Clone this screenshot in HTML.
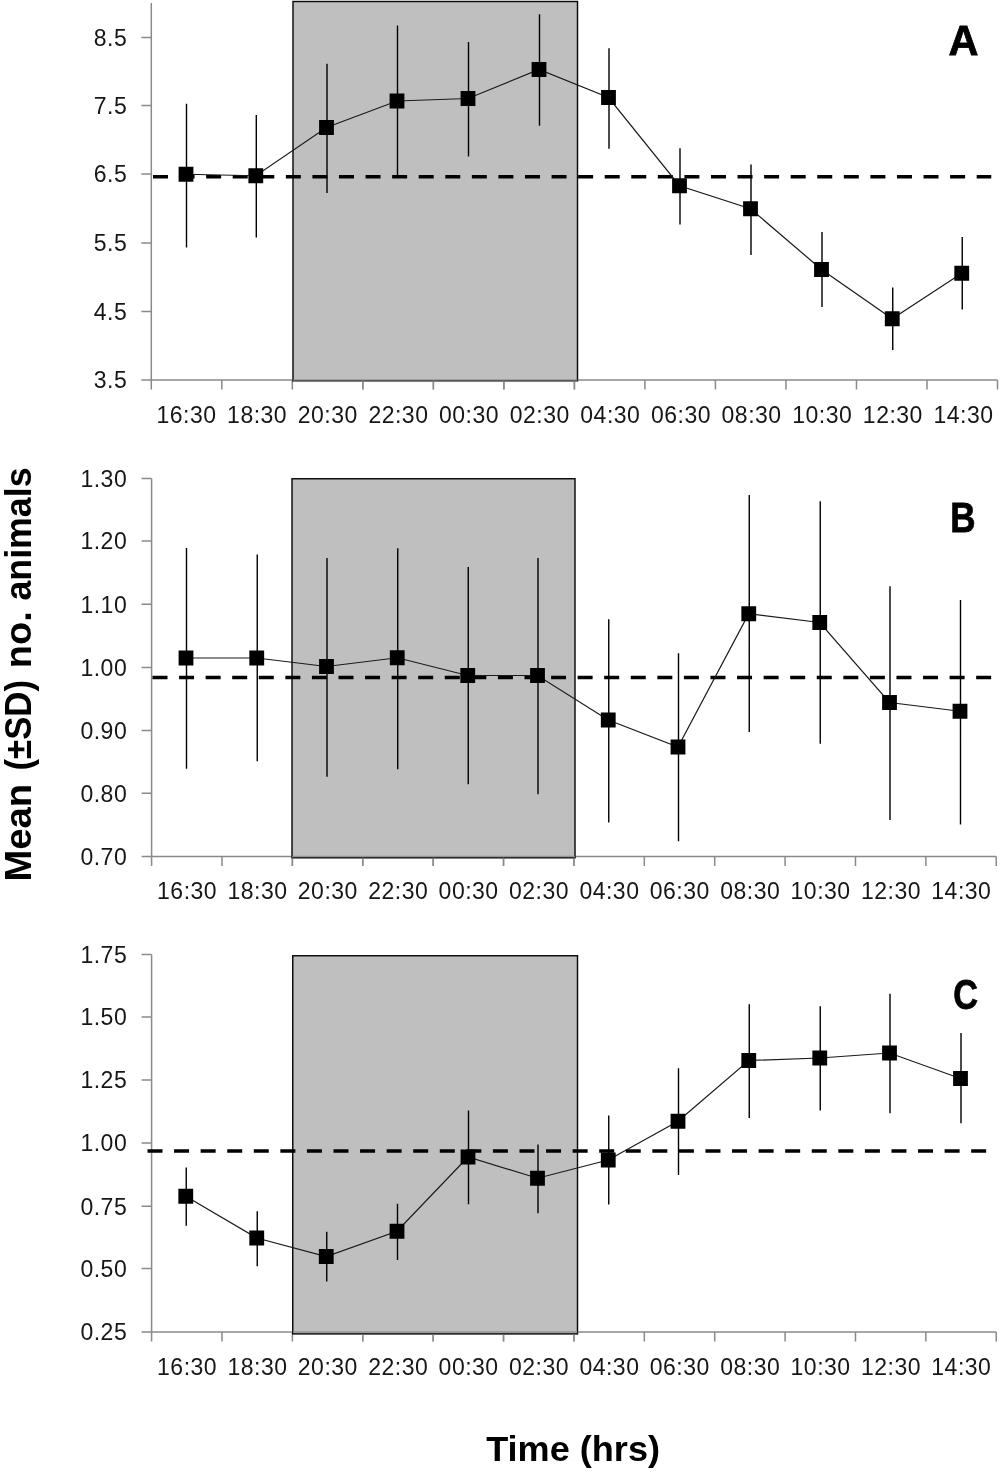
<!DOCTYPE html>
<html><head><meta charset="utf-8"><title>Figure</title>
<style>
html,body{margin:0;padding:0;background:#fff}
svg{display:block}
text{font-family:"Liberation Sans",sans-serif}
.t{font-size:23px;fill:#161616;letter-spacing:0.5px}
.b{font-weight:bold;fill:#000}
</style></head><body>
<svg width="1000" height="1472" viewBox="0 0 1000 1472">
<rect width="1000" height="1472" fill="#fff"/>
<g>
<path d="M151.3 3V380H997.5" fill="none" stroke="#8a8a8a" stroke-width="1.5"/>
<path d="M141.3 37.5H151.3M141.3 105.5H151.3M141.3 174H151.3M141.3 243H151.3M141.3 311.5H151.3M141.3 380H151.3M151.3 380V389.5M221.82 380V389.5M292.33 380V389.5M362.85 380V389.5M433.37 380V389.5M503.88 380V389.5M574.4 380V389.5M644.92 380V389.5M715.43 380V389.5M785.95 380V389.5M856.47 380V389.5M926.98 380V389.5M997.5 380V389.5" fill="none" stroke="#8a8a8a" stroke-width="1.5"/>
<rect x="293" y="1.5" width="284.5" height="379.3" fill="#bfbfbf" stroke="#0a0a0a" stroke-width="1.45"/>
<path d="M362.85 380.8V389.5M433.37 380.8V389.5M503.88 380.8V389.5M574.4 380.8V389.5M293 380H577.5" fill="none" stroke="#8a8a8a" stroke-width="1.5" opacity="0.8"/>
<text class="t" x="127.2" y="45.8" text-anchor="end">8.5</text>
<text class="t" x="127.2" y="113.8" text-anchor="end">7.5</text>
<text class="t" x="127.2" y="182.3" text-anchor="end">6.5</text>
<text class="t" x="127.2" y="251.3" text-anchor="end">5.5</text>
<text class="t" x="127.2" y="319.8" text-anchor="end">4.5</text>
<text class="t" x="127.2" y="388.3" text-anchor="end">3.5</text>
<text class="t" x="186.5" y="422.6" text-anchor="middle">16:30</text>
<text class="t" x="257.14" y="422.6" text-anchor="middle">18:30</text>
<text class="t" x="327.78" y="422.6" text-anchor="middle">20:30</text>
<text class="t" x="398.42" y="422.6" text-anchor="middle">22:30</text>
<text class="t" x="469.06" y="422.6" text-anchor="middle">00:30</text>
<text class="t" x="539.7" y="422.6" text-anchor="middle">02:30</text>
<text class="t" x="610.34" y="422.6" text-anchor="middle">04:30</text>
<text class="t" x="680.98" y="422.6" text-anchor="middle">06:30</text>
<text class="t" x="751.62" y="422.6" text-anchor="middle">08:30</text>
<text class="t" x="822.26" y="422.6" text-anchor="middle">10:30</text>
<text class="t" x="892.9" y="422.6" text-anchor="middle">12:30</text>
<text class="t" x="963.54" y="422.6" text-anchor="middle">14:30</text>
<path d="M153 176.75H991.25" stroke="#000" stroke-width="3.6" stroke-dasharray="15 11.57" fill="none"/>
<path d="M186.5 103.75V247.5M256.3 115V237.5M327 63.75V193M397.5 25.5V176.75M468.5 42V156.5M539.5 14.25V125.75M609 48.25V148.75M680 148.25V224.5M751 164.5V255M822 232V307M892.75 287.5V350M962.25 237V309.5" stroke="#000" stroke-width="1.4" fill="none"/>
<polyline points="186,174.25 255.8,175.75 326.5,127.5 397,101 468,98.5 539,69.5 608.5,97.5 679.5,185.75 750.5,208.75 821.5,269.5 892.25,318.75 961.75,273.25" fill="none" stroke="#1a1a1a" stroke-width="1.2"/>
<path d="M178.6 166.85h14.8v14.8h-14.8zM248.4 168.35h14.8v14.8h-14.8zM319.1 120.1h14.8v14.8h-14.8zM389.6 93.6h14.8v14.8h-14.8zM460.6 91.1h14.8v14.8h-14.8zM531.6 62.1h14.8v14.8h-14.8zM601.1 90.1h14.8v14.8h-14.8zM672.1 178.35h14.8v14.8h-14.8zM743.1 201.35h14.8v14.8h-14.8zM814.1 262.1h14.8v14.8h-14.8zM884.85 311.35h14.8v14.8h-14.8zM954.35 265.85h14.8v14.8h-14.8z" fill="#000"/>
<text class="b" transform="translate(963.5 54.6) scale(0.97 1)" font-size="42.8" stroke="#000" stroke-width="0.8" text-anchor="middle">A</text>
</g>
<g>
<path d="M151.6 478.5V856.5H996.25" fill="none" stroke="#8a8a8a" stroke-width="1.5"/>
<path d="M141.6 478.5H151.6M141.6 541H151.6M141.6 604.25H151.6M141.6 667.5H151.6M141.6 730.5H151.6M141.6 793.25H151.6M141.6 856.5H151.6M151.6 856.5V866M221.99 856.5V866M292.38 856.5V866M362.76 856.5V866M433.15 856.5V866M503.54 856.5V866M573.93 856.5V866M644.31 856.5V866M714.7 856.5V866M785.09 856.5V866M855.48 856.5V866M925.86 856.5V866M996.25 856.5V866" fill="none" stroke="#8a8a8a" stroke-width="1.5"/>
<rect x="292" y="478.75" width="283" height="379.05" fill="#bfbfbf" stroke="#0a0a0a" stroke-width="1.45"/>
<path d="M292.38 857.8V866M362.76 857.8V866M433.15 857.8V866M503.54 857.8V866M573.93 857.8V866M292 856.5H575" fill="none" stroke="#8a8a8a" stroke-width="1.5" opacity="0.8"/>
<text class="t" x="127.2" y="486.8" text-anchor="end">1.30</text>
<text class="t" x="127.2" y="549.3" text-anchor="end">1.20</text>
<text class="t" x="127.2" y="612.55" text-anchor="end">1.10</text>
<text class="t" x="127.2" y="675.8" text-anchor="end">1.00</text>
<text class="t" x="127.2" y="738.8" text-anchor="end">0.90</text>
<text class="t" x="127.2" y="801.55" text-anchor="end">0.80</text>
<text class="t" x="127.2" y="864.8" text-anchor="end">0.70</text>
<text class="t" x="187.09" y="898.5" text-anchor="middle">16:30</text>
<text class="t" x="257.48" y="898.5" text-anchor="middle">18:30</text>
<text class="t" x="327.87" y="898.5" text-anchor="middle">20:30</text>
<text class="t" x="398.26" y="898.5" text-anchor="middle">22:30</text>
<text class="t" x="468.64" y="898.5" text-anchor="middle">00:30</text>
<text class="t" x="539.03" y="898.5" text-anchor="middle">02:30</text>
<text class="t" x="609.42" y="898.5" text-anchor="middle">04:30</text>
<text class="t" x="679.81" y="898.5" text-anchor="middle">06:30</text>
<text class="t" x="750.19" y="898.5" text-anchor="middle">08:30</text>
<text class="t" x="820.58" y="898.5" text-anchor="middle">10:30</text>
<text class="t" x="890.97" y="898.5" text-anchor="middle">12:30</text>
<text class="t" x="961.36" y="898.5" text-anchor="middle">14:30</text>
<path d="M152.5 677.5H991.25" stroke="#000" stroke-width="3.6" stroke-dasharray="15 11.57" fill="none"/>
<path d="M186.5 548V768.75M257.25 554.5V761.25M327 558V776.75M397.75 548.25V769.25M468.25 567V784.25M538 558V794.25M608.75 619.25V822.5M678.5 653.25V841.25M749.25 495V732M820.25 501.25V743.75M890 586.25V820M960.5 600V824.5" stroke="#000" stroke-width="1.4" fill="none"/>
<polyline points="186,658 256.75,658 326.5,666.5 397.25,657.75 467.75,675.5 537.5,675.5 608.25,720 678,747 748.75,613.75 819.75,622.5 889.5,702.5 960,711.25" fill="none" stroke="#1a1a1a" stroke-width="1.2"/>
<path d="M178.6 650.6h14.8v14.8h-14.8zM249.35 650.6h14.8v14.8h-14.8zM319.1 659.1h14.8v14.8h-14.8zM389.85 650.35h14.8v14.8h-14.8zM460.35 668.1h14.8v14.8h-14.8zM530.1 668.1h14.8v14.8h-14.8zM600.85 712.6h14.8v14.8h-14.8zM670.6 739.6h14.8v14.8h-14.8zM741.35 606.35h14.8v14.8h-14.8zM812.35 615.1h14.8v14.8h-14.8zM882.1 695.1h14.8v14.8h-14.8zM952.6 703.85h14.8v14.8h-14.8z" fill="#000"/>
<text class="b" transform="translate(962.8 532.1) scale(0.815 1)" font-size="43" stroke="#000" stroke-width="0.8" text-anchor="middle">B</text>
</g>
<g>
<path d="M151.6 954.5V1332H996.25" fill="none" stroke="#8a8a8a" stroke-width="1.5"/>
<path d="M141.6 954.5H151.6M141.6 1017H151.6M141.6 1080H151.6M141.6 1143.1H151.6M141.6 1206.25H151.6M141.6 1268.5H151.6M141.6 1332H151.6M151.6 1332V1341.5M221.99 1332V1341.5M292.38 1332V1341.5M362.76 1332V1341.5M433.15 1332V1341.5M503.54 1332V1341.5M573.93 1332V1341.5M644.31 1332V1341.5M714.7 1332V1341.5M785.09 1332V1341.5M855.48 1332V1341.5M925.86 1332V1341.5M996.25 1332V1341.5" fill="none" stroke="#8a8a8a" stroke-width="1.5"/>
<rect x="292.75" y="955.75" width="284.75" height="378.15" fill="#bfbfbf" stroke="#0a0a0a" stroke-width="1.45"/>
<path d="M362.76 1333.9V1341.5M433.15 1333.9V1341.5M503.54 1333.9V1341.5M573.93 1333.9V1341.5M292.75 1332H577.5" fill="none" stroke="#8a8a8a" stroke-width="1.5" opacity="0.8"/>
<text class="t" x="127.2" y="962.8" text-anchor="end">1.75</text>
<text class="t" x="127.2" y="1025.3" text-anchor="end">1.50</text>
<text class="t" x="127.2" y="1088.3" text-anchor="end">1.25</text>
<text class="t" x="127.2" y="1151.4" text-anchor="end">1.00</text>
<text class="t" x="127.2" y="1214.55" text-anchor="end">0.75</text>
<text class="t" x="127.2" y="1276.8" text-anchor="end">0.50</text>
<text class="t" x="127.2" y="1340.3" text-anchor="end">0.25</text>
<text class="t" x="187.09" y="1374.6" text-anchor="middle">16:30</text>
<text class="t" x="257.48" y="1374.6" text-anchor="middle">18:30</text>
<text class="t" x="327.87" y="1374.6" text-anchor="middle">20:30</text>
<text class="t" x="398.26" y="1374.6" text-anchor="middle">22:30</text>
<text class="t" x="468.64" y="1374.6" text-anchor="middle">00:30</text>
<text class="t" x="539.03" y="1374.6" text-anchor="middle">02:30</text>
<text class="t" x="609.42" y="1374.6" text-anchor="middle">04:30</text>
<text class="t" x="679.81" y="1374.6" text-anchor="middle">06:30</text>
<text class="t" x="750.19" y="1374.6" text-anchor="middle">08:30</text>
<text class="t" x="820.58" y="1374.6" text-anchor="middle">10:30</text>
<text class="t" x="890.97" y="1374.6" text-anchor="middle">12:30</text>
<text class="t" x="961.36" y="1374.6" text-anchor="middle">14:30</text>
<path d="M147.5 1151H987" stroke="#000" stroke-width="3.6" stroke-dasharray="15 11.57" fill="none"/>
<path d="M186.25 1167.5V1225.75M257.25 1211.25V1266.25M326.75 1231.75V1281.5M397.5 1203.75V1260M468.5 1110.5V1204.25M538 1144.5V1213.25M608.75 1115.5V1204.5M678.5 1068.25V1175M749.25 1004.25V1118M820.25 1006.25V1110.5M890 993.75V1113.25M961 1033V1123.25" stroke="#000" stroke-width="1.4" fill="none"/>
<polyline points="185.75,1196.25 256.75,1238 326.25,1256.5 397,1231.25 468,1157 537.5,1178.25 608.25,1160 678,1121.25 748.75,1060.5 819.75,1058 889.5,1053 960.5,1078.5" fill="none" stroke="#1a1a1a" stroke-width="1.2"/>
<path d="M178.35 1188.85h14.8v14.8h-14.8zM249.35 1230.6h14.8v14.8h-14.8zM318.85 1249.1h14.8v14.8h-14.8zM389.6 1223.85h14.8v14.8h-14.8zM460.6 1149.6h14.8v14.8h-14.8zM530.1 1170.85h14.8v14.8h-14.8zM600.85 1152.6h14.8v14.8h-14.8zM670.6 1113.85h14.8v14.8h-14.8zM741.35 1053.1h14.8v14.8h-14.8zM812.35 1050.6h14.8v14.8h-14.8zM882.1 1045.6h14.8v14.8h-14.8zM953.1 1071.1h14.8v14.8h-14.8z" fill="#000"/>
<text class="b" transform="translate(965.7 1009.2) scale(0.79 1)" font-size="43.4" stroke="#000" stroke-width="0.8" text-anchor="middle">C</text>
</g>
<text class="b" x="486.2" y="1460.5" font-size="34.6" textLength="173.8" lengthAdjust="spacingAndGlyphs">Time (hrs)</text>
<g class="b" transform="translate(31.3 880) rotate(-90)" font-size="37">
<text x="-1.5" y="0" textLength="97.5" lengthAdjust="spacingAndGlyphs">Mean</text>
<text x="109.5" y="0" textLength="90.5" lengthAdjust="spacingAndGlyphs">(±SD)</text>
<text x="211.8" y="0" textLength="57" lengthAdjust="spacingAndGlyphs">no.</text>
<text x="279.5" y="0" textLength="133" lengthAdjust="spacingAndGlyphs">animals</text>
</g>
</svg>
</body></html>
